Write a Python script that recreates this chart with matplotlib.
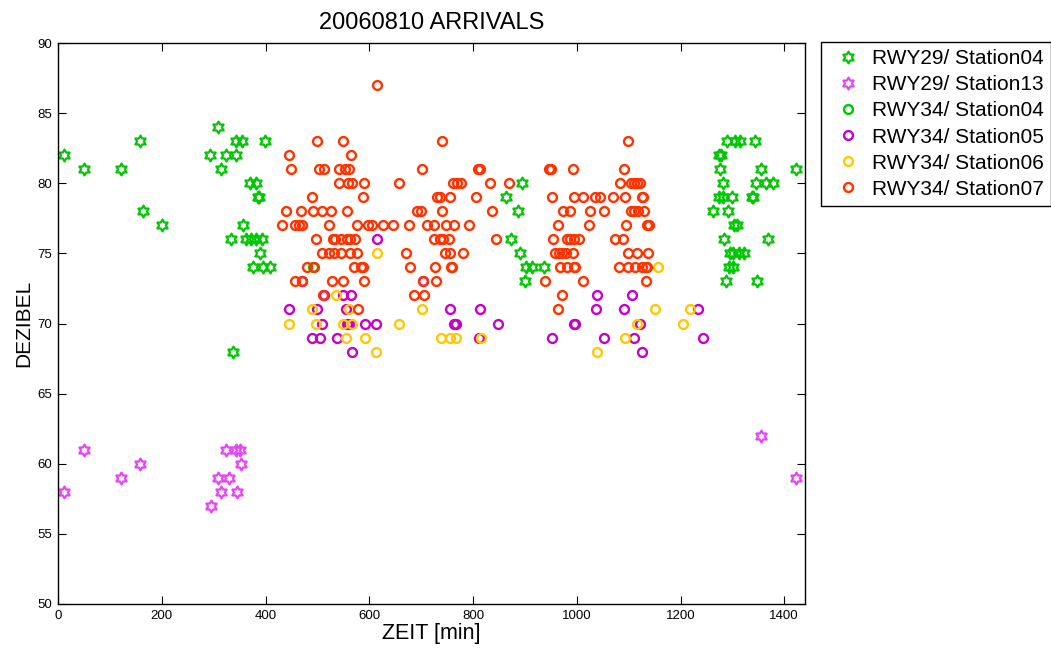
import numpy as np
import matplotlib
matplotlib.use("Agg")
import matplotlib.pyplot as plt
from matplotlib.path import Path

plt.rcParams["font.family"] = ["Liberation Sans", "DejaVu Sans"]

# RWY29 stars (time in min, level in dB)
rwy29_st04_min = [12, 50, 122, 159, 164, 200, 293, 309, 315, 324, 343, 343, 354, 399,
                  371, 382, 385, 388, 356, 334, 362, 373, 382, 393, 390, 375, 396, 409, 337,
                  895, 864, 886, 874, 891, 902, 913, 936, 901,
                  1290, 1305, 1314, 1343, 1274, 1279, 1277, 1356, 1423, 1282, 1345, 1365,
                  1378, 1274, 1282, 1299, 1337, 1340, 1262, 1291, 1303, 1309, 1283, 1368,
                  1295, 1302, 1313, 1323, 1293, 1301, 1287, 1348]
rwy29_st04_db = [82, 81, 81, 83, 78, 77, 82, 84, 81, 82, 82, 83, 83, 83,
                 80, 80, 79, 79, 77, 76, 76, 76, 76, 76, 75, 74, 74, 74, 68,
                 80, 79, 78, 76, 75, 74, 74, 74, 73,
                 83, 83, 83, 83, 82, 82, 81, 81, 81, 80, 80, 80,
                 80, 79, 79, 79, 79, 79, 78, 78, 77, 77, 76, 76,
                 75, 75, 75, 75, 74, 74, 73, 73]

rwy29_st13_min = [12, 50, 122, 159, 294, 309, 315, 324, 343, 350, 330, 345, 353, 1356, 1422]
rwy29_st13_db = [58, 61, 59, 60, 57, 59, 58, 61, 61, 61, 59, 58, 60, 62, 59]

# RWY34 circles: one level (dB) per row, times (min) at that level
rwy34_st04_db = [74]
rwy34_st04_min = [[492]]

rwy34_st05_db = [76, 73, 72, 71, 70, 69, 68]
rwy34_st05_min = [
    [615],
    [470, 703],
    [513, 550, 565, 1039, 1107],
    [446, 500, 555, 756, 814, 1037, 1092, 1234],
    [508, 557, 561, 591, 613, 764, 767, 849, 994, 996, 1121],
    [489, 505, 537, 811, 953, 1052, 1111, 1244],
    [566, 1125],
]

rwy34_st06_db = [75, 74, 72, 71, 70, 69, 68]
rwy34_st06_min = [
    [615],
    [1156],
    [536],
    [489, 560, 702, 1151, 1219],
    [446, 498, 550, 566, 658, 1116, 1204],
    [555, 592, 738, 755, 767, 815, 1093],
    [613, 1039],
]

rwy34_st07_db = [87, 83, 82, 81, 80, 79, 78, 77, 76, 75, 74, 73, 72, 71]
rwy34_st07_min = [
    [615],
    [499, 549, 740, 1098],
    [446, 565],
    [449, 504, 512, 542, 553, 560, 702, 810, 814, 947, 950, 992, 1091],
    [542, 559, 566, 590, 658, 761, 769, 776, 832, 870, 1084, 1104, 1111, 1116, 1121],
    [489, 587, 730, 737, 755, 806, 953, 995, 1012, 1036, 1045, 1070, 1093, 1126, 1128],
    [439, 468, 492, 509, 527, 557, 693, 699, 740, 836, 974, 987, 1026, 1052, 1104,
     1111, 1119, 1130],
    [431, 456, 465, 470, 523, 576, 597, 605, 626, 645, 676, 711, 725, 748, 764, 793,
     963, 1023, 1095, 1135, 1140],
    [497, 530, 534, 546, 557, 562, 573, 725, 737, 742, 753, 844, 955, 982, 987, 994,
     1005, 1074, 1090],
    [509, 523, 532, 546, 563, 577, 670, 746, 756, 780, 958, 965, 971, 979, 992, 1098,
     1117, 1138],
    [480, 494, 570, 584, 588, 679, 727, 758, 760, 968, 981, 994, 997, 1081, 1099, 1113,
     1126, 1134, 1136],
    [456, 470, 529, 550, 590, 703, 729, 938, 1013, 1133],
    [511, 687, 705, 972],
    [579, 963],
]


def flatten(levels, times):
    x, y = [], []
    for lev, ts in zip(levels, times):
        x += ts
        y += [lev] * len(ts)
    return x, y


def hexagram():
    # six-pointed star outline, point up
    ang = np.pi / 2 + np.arange(12) * np.pi / 6
    r = np.where(np.arange(12) % 2 == 0, 1.0, 1 / np.sqrt(3))
    verts = np.column_stack([r * np.cos(ang), r * np.sin(ang)])
    verts = np.vstack([verts, verts[:1]])
    codes = [Path.MOVETO] + [Path.LINETO] * 11 + [Path.CLOSEPOLY]
    return Path(verts, codes)


star = hexagram()

fig = plt.figure(figsize=(10.51, 6.51), dpi=100)
ax = fig.add_axes([58 / 1051, 1 - 604 / 651, (805 - 58) / 1051, (604 - 43) / 651])

ax.plot(rwy29_st04_min, rwy29_st04_db, ls="none", marker=star, ms=8.5, mfc="none",
        mec="#00c800", mew=1.6, label="RWY29/ Station04")
ax.plot(rwy29_st13_min, rwy29_st13_db, ls="none", marker=star, ms=8.5, mfc="none",
        mec="#e545f5", mew=1.6, label="RWY29/ Station13")

circles = [
    (rwy34_st04_db, rwy34_st04_min, "#00c800", "RWY34/ Station04"),
    (rwy34_st05_db, rwy34_st05_min, "#c800c8", "RWY34/ Station05"),
    (rwy34_st06_db, rwy34_st06_min, "#ffc800", "RWY34/ Station06"),
    (rwy34_st07_db, rwy34_st07_min, "#ff3300", "RWY34/ Station07"),
]
for levels, times, col, lab in circles:
    x, y = flatten(levels, times)
    ax.plot(x, y, ls="none", marker="o", ms=6.4, mfc="none", mec=col, mew=1.7, label=lab)

ax.set_xlim(0, 1440)
ax.set_ylim(50, 90)
ax.set_xticks(np.arange(0, 1401, 200))
ax.set_yticks(np.arange(50, 91, 5))
ax.tick_params(direction="in", top=True, right=True, length=5.5, width=0.8,
               labelsize=9.5, pad=4)
for s in ax.spines.values():
    s.set_linewidth(1.0)

ax.set_title("20060810 ARRIVALS", fontsize=17, pad=10)
ax.set_xlabel("ZEIT [min]", fontsize=15.5, labelpad=1)
ax.set_ylabel("DEZIBEL", fontsize=15, labelpad=3)

leg = ax.legend(loc="upper left", bbox_to_anchor=(821 / 1051, 1 - 42 / 651),
                bbox_transform=fig.transFigure, fontsize=15, frameon=True,
                fancybox=False, edgecolor="black", framealpha=1, borderaxespad=0,
                handlelength=1.9, handletextpad=0.2, labelspacing=0.34,
                borderpad=0.35, numpoints=1)
leg.get_frame().set_linewidth(1.0)

fig.savefig("out.png", dpi=100)
